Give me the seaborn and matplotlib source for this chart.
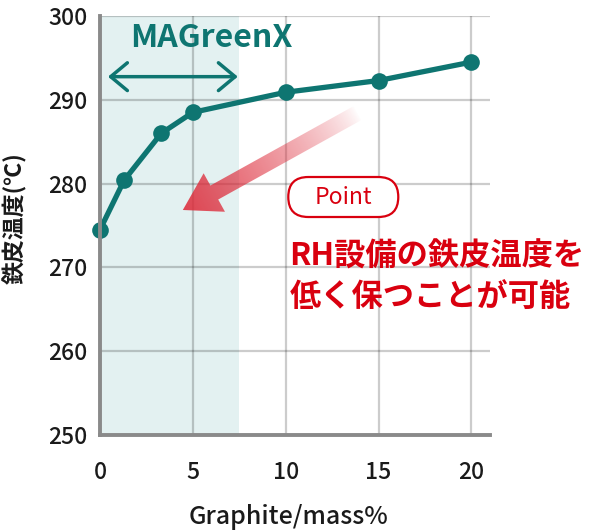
import numpy as np
import matplotlib
matplotlib.use("Agg")
import matplotlib.pyplot as plt
import seaborn as sns
from matplotlib.patches import Polygon, FancyBboxPatch
from matplotlib.transforms import IdentityTransform

# ---- data ----
graphite = [0, 1.3, 3.3, 5, 10, 15, 20]
temperature = [274.5, 280.4, 286.0, 288.5, 290.9, 292.3, 294.5]
x_ticks = [0, 5, 10, 15, 20]
y_ticks = [250, 260, 270, 280, 290, 300]
shade_range = [0, 7.5]
brand_text = "MAGreenX"
point_text = "Point"
message_lines = ["RH設備の鉄皮温度を", "低く保つことが可能"]
y_label = "鉄皮温度(℃)"
x_label = "Graphite/mass%"

sns.set_theme(style="white")
plt.rcParams['font.family'] = ['Noto Sans CJK JP', 'DejaVu Sans']

TEAL = "#0e7571"
RED = "#d9000f"
W, H = 592, 531

fig = plt.figure(figsize=(W / 100, H / 100), dpi=100)
ax = fig.add_axes([100 / W, 1 - 435 / H, 390 / W, 419 / H])

XLIM, YLIM = (0, 21), (250, 300)
ax.set_xlim(*XLIM)
ax.set_ylim(*YLIM)

ax.axvspan(shade_range[0], shade_range[1], color="#e3f1f1", lw=0, zorder=0.2)
ax.set_axisbelow(True)
ax.grid(True, color="black", alpha=0.2, lw=1.6)
ax.set_xticks(x_ticks)
ax.set_yticks(y_ticks)
ax.tick_params(axis="both", length=0, labelsize=16.5, labelcolor="#1a1a1a")
ax.tick_params(axis="x", pad=19)
ax.tick_params(axis="y", pad=9)
for lab in ax.get_xticklabels() + ax.get_yticklabels():
    lab.set_fontweight("medium")

for s in ["top", "right"]:
    ax.spines[s].set_visible(False)
for s in ["left", "bottom"]:
    ax.spines[s].set_color("#8a8a8a")
    ax.spines[s].set_linewidth(2.8)
    ax.spines[s].set_zorder(5)

sns.lineplot(x=graphite, y=temperature, color=TEAL, lw=3.8, marker="o",
             markersize=12, markeredgewidth=0, ax=ax, zorder=4, clip_on=False)

# brand label and range arrow
ax.text(6.0, 297.4, brand_text, color=TEAL, fontsize=23, fontweight="bold",
        ha="center", va="center", zorder=6)
ax.annotate("", xy=(0.43, 292.76), xytext=(7.42, 292.76),
            arrowprops=dict(arrowstyle="<->,head_length=1.2,head_width=1.0",
                            mutation_scale=10, color=TEAL, lw=2.5,
                            shrinkA=0, shrinkB=0), zorder=6)

# gradient red arrow
tail = np.array(ax.transData.transform((13.87, 288.42)))
tip = np.array(ax.transData.transform((4.46, 276.85)))
d = tip - tail
L = np.hypot(*d)
u = d / L
n = np.array([-u[1], u[0]])
sw, hl, hw = 8.0, 36.0, 22.0
base = tip - u * hl
verts = np.array([tail + n * sw, base + n * sw, base + n * hw, tip,
                  base - n * hw, base - n * sw, tail - n * sw])
xmin, ymin = verts.min(axis=0) - 2
xmax, ymax = verts.max(axis=0) + 2
gx = np.linspace(xmin, xmax, 300)
gy = np.linspace(ymin, ymax, 300)
GX, GY = np.meshgrid(gx, gy)
t = ((GX - tail[0]) * u[0] + (GY - tail[1]) * u[1]) / L
alpha = 0.88 * np.clip(t, 0, 1) ** 0.75
img = np.zeros((300, 300, 4))
img[..., 0] = 0.87
img[..., 1] = 0.17
img[..., 2] = 0.23
img[..., 3] = alpha
inv = ax.transData.inverted()
(dx0, dy0), (dx1, dy1) = inv.transform([(xmin, ymin), (xmax, ymax)])
im = ax.imshow(img, extent=[dx0, dx1, dy0, dy1], origin="lower",
               aspect="auto", interpolation="bilinear", zorder=3)
im.set_clip_path(Polygon(verts, closed=True, transform=IdentityTransform()))
ax.set_xlim(*XLIM)
ax.set_ylim(*YLIM)

# Point badge
pc = np.array(ax.transData.transform((13.1, 278.4)))
box = FancyBboxPatch((pc[0] - 55, pc[1] - 20), 110, 40,
                     boxstyle="round,pad=0,rounding_size=20",
                     transform=IdentityTransform(), fc="white", ec=RED,
                     lw=1.6, zorder=5)
ax.add_patch(box)
ax.text(13.1, 278.4, point_text, color=RED, fontsize=16.5, ha="center",
        va="center", zorder=6)

# message
ax.text(10.2, 271.3, message_lines[0], color=RED, fontsize=22.5,
        fontweight="bold", ha="left", va="center", zorder=6, clip_on=False)
ax.text(10.2, 266.5, message_lines[1], color=RED, fontsize=22.5,
        fontweight="bold", ha="left", va="center", zorder=6, clip_on=False)

ax.set_xlabel("")
ax.set_ylabel("")
fig.text(15 / W, 1 - 218 / H, y_label, rotation=90, ha="center", va="center",
         fontsize=16.5, fontweight="bold", color="#1a1a1a")
fig.text(288 / W, 1 - 517 / H, x_label, ha="center", va="center",
         fontsize=18, fontweight="medium", color="#1a1a1a")

fig.savefig("out.png", dpi=100)
